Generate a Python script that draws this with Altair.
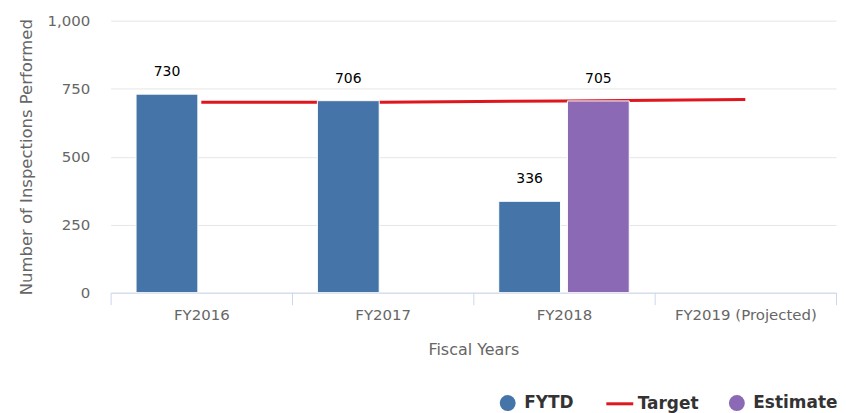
import altair as alt
import pandas as pd

years = ["FY2016", "FY2017", "FY2018", "FY2019 (Projected)"]
fytd_values = [730, 706, 336, None]
estimate_values = [None, None, 705, None]
target_values = [700, 700, 705, 710]

bar_series = ["FYTD", "Estimate"]
bar_colors = ["#4575a8", "#8b69b5"]
line_series = ["Target"]
line_colors = ["#e0161e"]
y_ticks = [0, 250, 500, 750, 1000]

rows = []
for yr, v in zip(years, fytd_values):
    if v is not None:
        rows.append({"year": yr, "series": "FYTD", "value": v})
for yr, v in zip(years, estimate_values):
    if v is not None:
        rows.append({"year": yr, "series": "Estimate", "value": v})
bar_df = pd.DataFrame(rows)
line_df = pd.DataFrame({"year": years, "series": ["Target"] * len(years), "value": target_values})

FONT = "DejaVu Sans"

x_enc = alt.X(
    "year:N", sort=years,
    scale=alt.Scale(domain=years, paddingInner=0, paddingOuter=0),
    axis=alt.Axis(title="Fiscal Years", labelAngle=0, tickBand="extent", ticks=True, tickSize=12,
                  tickColor="#ccd6eb", domainColor="#ccd6eb", labelColor="#666666", labelFontSize=15,
                  labelPadding=3, titleColor="#666666", titleFontSize=16, titleFontWeight="normal",
                  titlePadding=19, grid=False, labelFont=FONT, titleFont=FONT),
)
y_enc = alt.Y(
    "value:Q",
    scale=alt.Scale(domain=[0, 1000]),
    axis=alt.Axis(title="Number of Inspections Performed", values=y_ticks, format=",.0f", domain=False,
                  ticks=False, labelPadding=21, gridColor="#e6e6e6", labelColor="#666666",
                  labelFontSize=15, titleColor="#666666", titleFontSize=16.5, titleFontWeight="normal",
                  titlePadding=12, labelFont=FONT, titleFont=FONT),
)
fill_enc = alt.Fill(
    "series:N",
    scale=alt.Scale(domain=bar_series, range=bar_colors),
    legend=alt.Legend(
        title=None, orient="none", legendX=390, legendY=375, direction="horizontal",
        labelFont=FONT, labelFontSize=17, labelFontWeight="bold", labelColor="#333333",
        symbolType="circle", symbolSize=256, symbolStrokeWidth=0, columnPadding=155, labelOffset=8,
    ),
)
stroke_enc = alt.Stroke(
    "series:N",
    scale=alt.Scale(domain=line_series, range=line_colors),
    legend=alt.Legend(
        title=None, orient="none", legendX=496, legendY=369.5, direction="horizontal",
        labelFont=FONT, labelFontSize=17, labelFontWeight="bold", labelColor="#333333",
        symbolType="stroke", symbolSize=729, symbolStrokeWidth=3, labelOffset=3,
    ),
)
xoff = alt.XOffset("series:N", scale=alt.Scale(domain=bar_series, paddingInner=0.1, paddingOuter=0.37))

line = alt.Chart(line_df).mark_line(strokeWidth=3).encode(x=x_enc, y=y_enc, stroke=stroke_enc)
bars = alt.Chart(bar_df).mark_bar(stroke="white", strokeWidth=1).encode(
    x=x_enc, xOffset=xoff, y=y_enc, fill=fill_enc)
labels = alt.Chart(bar_df).mark_text(dy=-22, fontSize=14, font=FONT, color="#000000").encode(
    x=x_enc, xOffset=xoff, y=y_enc, text=alt.Text("value:Q"))

chart = alt.layer(line, bars, labels).properties(
    width=728, height=273,
    padding={"left": 11, "top": 5, "right": 0, "bottom": 0},
    background="white",
).resolve_scale(fill="independent", stroke="independent").configure_view(stroke=None)

chart.save("out.html", embed_options={"renderer": "svg", "actions": False})
